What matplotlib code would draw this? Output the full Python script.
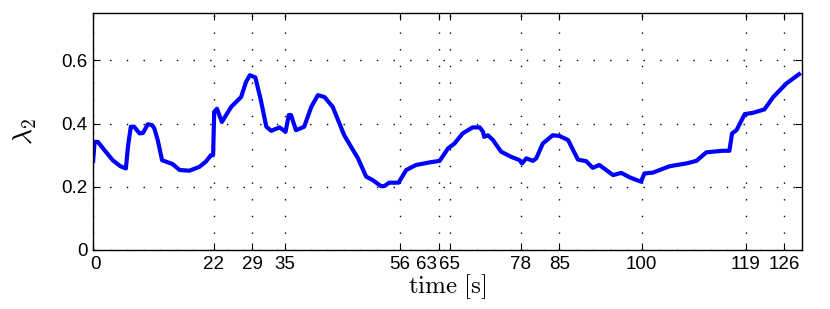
import numpy as np
import matplotlib.pyplot as plt
import matplotlib.transforms as mtransforms

# lambda_2 trace
t = [0.0, 0.3, 0.9, 2.0, 3.6, 5.0, 6.0, 6.4, 6.9, 7.5, 8.5, 9.1, 10.0, 10.8, 11.2,
     11.8, 12.6, 14.5, 15.8, 17.6, 19.4, 20.6, 21.5, 21.9, 22.1, 22.6, 23.5, 25.2,
     27.0, 27.9, 28.6, 29.6, 30.6, 31.6, 32.5, 34.0, 35.1, 35.7, 36.1, 37.0, 38.5,
     39.8, 41.0, 42.2, 43.7, 45.8, 48.3, 49.8, 51.0, 52.5, 53.1, 54.0, 55.7, 57.1,
     58.9, 61.3, 63.2, 64.7, 65.9, 67.4, 69.2, 70.5, 71.1, 71.3, 72.0, 72.9, 74.4,
     76.2, 77.8, 78.2, 79.0, 80.2, 80.8, 82.0, 83.8, 85.0, 86.6, 88.4, 89.9, 91.1,
     92.3, 94.8, 96.3, 97.8, 99.9, 100.5, 102.1, 105.1, 108.2, 110.0, 111.8, 114.8,
     116.0, 116.5, 117.3, 118.8, 120.3, 122.4, 124.0, 126.4, 129.0]
lam = [0.275, 0.342, 0.342, 0.318, 0.284, 0.265, 0.258, 0.33, 0.39, 0.39, 0.369,
       0.37, 0.398, 0.395, 0.384, 0.348, 0.284, 0.272, 0.253, 0.251, 0.263, 0.28,
       0.30, 0.30, 0.437, 0.447, 0.405, 0.453, 0.484, 0.532, 0.553, 0.546, 0.474,
       0.39, 0.377, 0.388, 0.374, 0.427, 0.427, 0.379, 0.39, 0.453, 0.49, 0.484,
       0.453, 0.363, 0.29, 0.232, 0.221, 0.202, 0.202, 0.213, 0.213, 0.253, 0.269,
       0.277, 0.282, 0.321, 0.337, 0.369, 0.388, 0.388, 0.374, 0.358, 0.363, 0.348,
       0.311, 0.295, 0.284, 0.274, 0.29, 0.282, 0.29, 0.337, 0.363, 0.361, 0.348,
       0.286, 0.281, 0.26, 0.269, 0.237, 0.244, 0.23, 0.216, 0.242, 0.245, 0.265,
       0.274, 0.282, 0.309, 0.314, 0.314, 0.369, 0.379, 0.43, 0.434, 0.445, 0.484,
       0.527, 0.56]

xticks = [0, 22, 29, 35, 56, 63, 65, 78, 85, 100, 119, 126]
yticks = [0, 0.2, 0.4, 0.6]

plt.rcParams['mathtext.fontset'] = 'cm'
plt.rcParams['font.family'] = ['Liberation Sans', 'DejaVu Sans']

fig = plt.figure(figsize=(8.3, 3.09), dpi=100)
ax = fig.add_axes([0.112, 0.191, 0.854, 0.767])

ax.plot(t, lam, color=(0, 0, 1), lw=3.0, solid_joinstyle='round',
        solid_capstyle='butt')

ax.set_xlim(0, 129.2)
ax.set_ylim(0, 0.75)
ax.set_xticks(xticks)
ax.set_yticks(yticks)
ax.set_yticklabels(['0', '0.2', '0.4', '0.6'])
ax.tick_params(direction='in', top=True, right=True, length=5, width=0.8,
               labelsize=13.5, pad=4)
ax.grid(True, color='black', linestyle=(0, (1, 11)), linewidth=1.0)
for s in ax.spines.values():
    s.set_linewidth(1.0)

# crowded labels 63/65 are nudged apart like in the original
shifts = {0: 3, 63: -12, 65: 0}
for lab, v in zip(ax.get_xticklabels(), xticks):
    if v in shifts:
        off = mtransforms.ScaledTranslation(shifts[v] / 100, 0, fig.dpi_scale_trans)
        lab.set_transform(lab.get_transform() + off)

ax.set_xlabel(r'$\mathrm{time\ [s]}$', fontsize=18, labelpad=0)
ax.set_ylabel(r'$\lambda_2$', fontsize=20, labelpad=16)

fig.savefig('out.png', dpi=100)
